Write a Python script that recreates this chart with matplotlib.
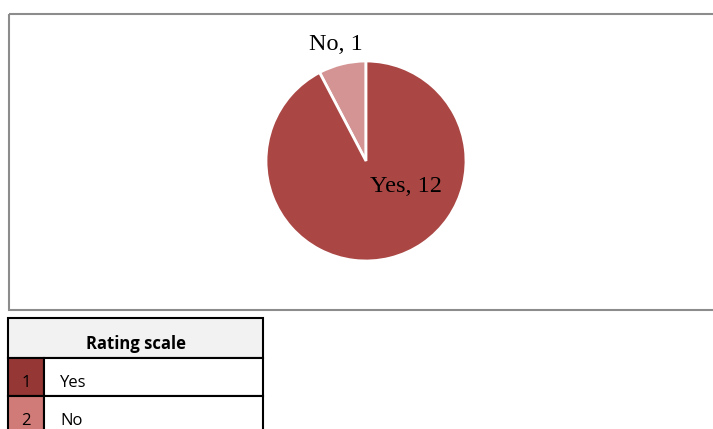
import matplotlib.pyplot as plt
from matplotlib.patches import Rectangle

# pie data
labels = ['No', 'Yes']
sizes = [1, 12]
colors = ['#d49493', '#aa4744']

# rating scale table
scale_nums = ['1', '2']
scale_labels = ['Yes', 'No']
scale_colors = ['#953735', '#d07b78']

W, H = 713, 429
fig = plt.figure(figsize=(W / 100, H / 100), dpi=100)

# full-figure overlay in pixel coords for the frame and the table
bg = fig.add_axes([0, 0, 1, 1])
bg.set_xlim(0, W)
bg.set_ylim(H, 0)
bg.axis('off')

# chart frame
bg.add_patch(Rectangle((8.5, 13.5), 720, 296, fill=False, edgecolor='#8c8c8c', lw=1.5))

# table
tx, ty = 8, 318
hdr_h, row_h = 40, 38
num_w, tab_w = 36, 255
bg.add_patch(Rectangle((tx, ty), tab_w, hdr_h, facecolor='#f2f2f2', edgecolor='black', lw=1.5))
bg.text(tx + tab_w / 2, ty + 26, 'Rating scale', ha='center', va='center',
        fontsize=12, fontweight='bold', family='Open Sans')
for i in range(len(scale_nums)):
    y0 = ty + hdr_h + i * row_h
    bg.add_patch(Rectangle((tx, y0), num_w, row_h, facecolor=scale_colors[i], edgecolor='black', lw=1.5))
    bg.add_patch(Rectangle((tx + num_w, y0), tab_w - num_w, row_h, facecolor='white', edgecolor='black', lw=1.5))
    bg.text(tx + num_w / 2, y0 + 25, scale_nums[i], ha='center', va='center', fontsize=12, family='Open Sans')
    bg.text(tx + num_w + 16, y0 + 25, scale_labels[i], ha='left', va='center', fontsize=12, family='Open Sans')

# pie
cx, cy, r = 366, 161, 102
ax = fig.add_axes([(cx - r) / W, 1 - (cy + r) / H, 2 * r / W, 2 * r / H])
wedges, _ = ax.pie(sizes, colors=colors, startangle=90, counterclock=True,
                   wedgeprops={'edgecolor': 'white', 'linewidth': 2})
ax.set_xlim(-1.02, 1.02)
ax.set_ylim(-1.02, 1.02)
ax.set_aspect('equal')

# data labels
ax.text(-0.30, 1.17, f'{labels[0]}, {sizes[0]}', ha='center', va='center',
        fontsize=17.5, family='Liberation Serif')
ax.text(0.40, -0.26, f'{labels[1]}, {sizes[1]}', ha='center', va='center',
        fontsize=17.5, family='Liberation Serif')

fig.savefig('out.png', dpi=100)
